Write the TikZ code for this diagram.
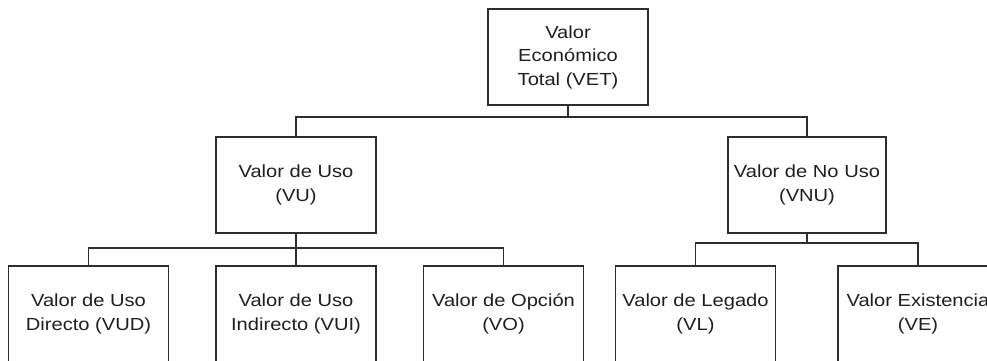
\documentclass[tikz,border=0pt]{standalone}
\usepackage{fontspec}
\setmainfont[FakeStretch=1.15]{Liberation Sans}
\begin{document}
\begin{tikzpicture}[x=1pt,y=-1pt,
  box/.style={draw=black!82, line width=1.8pt, minimum width=160pt, minimum height=96pt,
    inner sep=2pt, align=center, text=black!88,
    font=\fontsize{17.5pt}{23.5pt}\selectfont},
  conn/.style={draw=black!82, line width=1.8pt}]
\useasboundingbox (0,0) rectangle (987,360);
\clip (0,0) rectangle (987,360);
\fill[white] (0,0) rectangle (987,360);
\node[box] (vet) at (568,57) {Valor\\Económico\\Total (VET)};
\node[box] (vu) at (296,185) {Valor de Uso\\(VU)};
\node[box, minimum width=158pt] (vnu) at (807,185) {Valor de No Uso\\(VNU)};
\node[box] (vud) at (88.5,314) {Valor de Uso\\Directo (VUD)};
\node[box] (vui) at (296,314) {Valor de Uso\\Indirecto (VUI)};
\node[box] (vo) at (503.5,314) {Valor de Opción\\(VO)};
\node[box] (vl) at (695.5,314) {Valor de Legado\\(VL)};
\node[box] (ve) at (918,314) {Valor Existencia\\(VE)};
\coordinate (b1) at (568,117);
\coordinate (b2) at (296,248);
\coordinate (b3) at (807,243);
\draw[conn] (vet.south) -- (b1);
\draw[conn] (vu.north) |- (b1);
\draw[conn] (vnu.north) |- (b1);
\draw[conn] (vu.south) -- (b2);
\draw[conn] (vud.north) |- (b2);
\draw[conn] (vui.north) -- (b2);
\draw[conn] (vo.north) |- (b2);
\draw[conn] (vnu.south) -- (b3);
\draw[conn] (vl.north) |- (b3);
\draw[conn] (ve.north) |- (b3);
\end{tikzpicture}
\end{document}
